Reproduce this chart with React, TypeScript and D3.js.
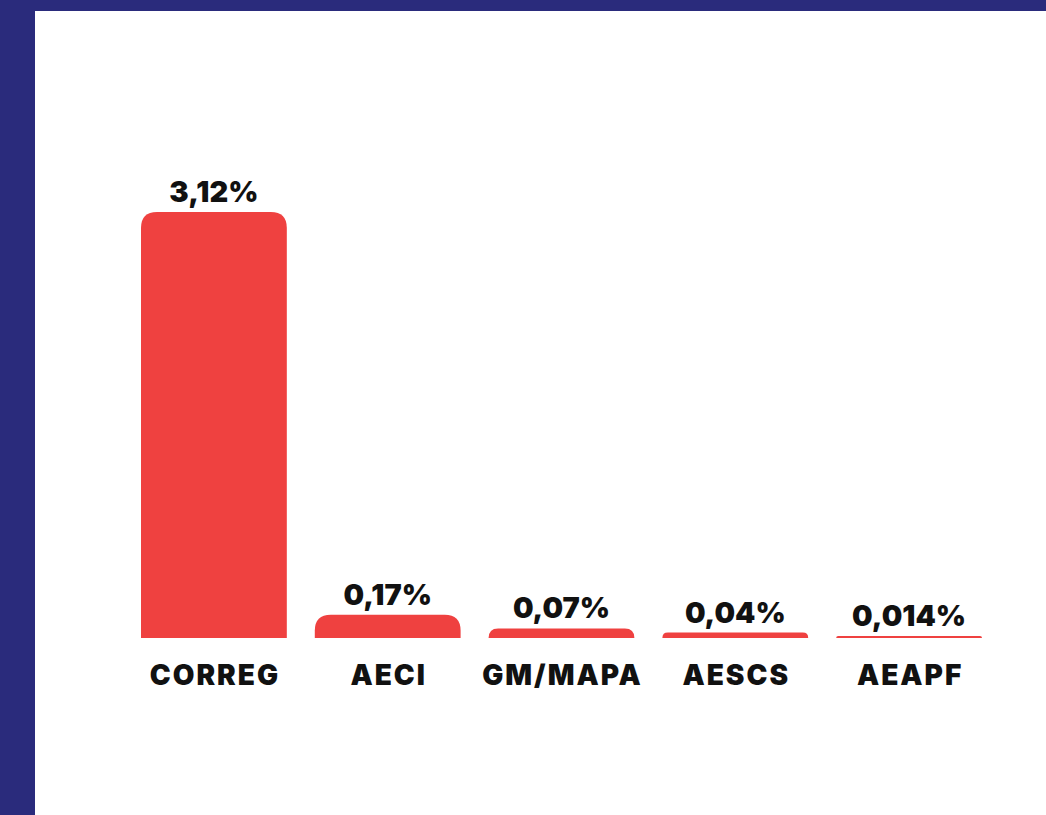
import React, { useEffect, useRef } from 'react';
import * as d3 from 'd3';

const categories = ['CORREG', 'AECI', 'GM/MAPA', 'AESCS', 'AEAPF'];
const values = [3.12, 0.17, 0.07, 0.04, 0.014];
const valueLabels = ['3,12%', '0,17%', '0,07%', '0,04%', '0,014%'];

const W = 1046;
const H = 815;
const NAVY = '#2a2b7c';
const RED = '#ef4140';
const FONT = "Inter, 'Open Sans', sans-serif";

// path for a bar with only the top corners rounded
const topRounded = (x: number, y: number, w: number, h: number, r: number) => {
  const rr = Math.min(r, h, w / 2);
  return `M${x},${y + h}V${y + rr}Q${x},${y} ${x + rr},${y}H${x + w - rr}Q${x + w},${y} ${x + w},${y + rr}V${y + h}Z`;
};

const App = () => {
  const chartRef = useRef<SVGSVGElement>(null);

  useEffect(() => {
    const svg = d3.select(chartRef.current);
    svg.selectAll('*').remove();

    // background: navy frame, white panel
    svg.append('rect').attr('width', W).attr('height', H).attr('fill', NAVY);
    svg.append('rect').attr('x', 35).attr('y', 11).attr('width', W - 35).attr('height', H - 11).attr('fill', '#fff');

    const baseline = 638;

    const xScale = d3
      .scaleBand()
      .domain(categories)
      .range([141, 982])
      .paddingInner(0.161)
      .paddingOuter(0);

    const yScale = d3.scaleLinear().domain([0, 3.12]).range([baseline, 212]);

    const g = svg.append('g');

    g.selectAll('path.bar')
      .data(categories)
      .enter()
      .append('path')
      .attr('class', 'bar')
      .attr('fill', RED)
      .attr('d', (d, i) => {
        const y = yScale(values[i]);
        return topRounded(xScale(d)!, y, xScale.bandwidth(), baseline - y, 16);
      });

    g.selectAll('text.val')
      .data(categories)
      .enter()
      .append('text')
      .attr('class', 'val')
      .attr('x', (d) => xScale(d)! + xScale.bandwidth() / 2)
      .attr('y', (d, i) => yScale(values[i]) - 10)
      .attr('text-anchor', 'middle')
      .attr('font-family', FONT)
      .attr('font-weight', 900)
      .attr('font-size', 29)
      .attr('fill', '#111')
      .text((d, i) => valueLabels[i]);

    g.selectAll('text.cat')
      .data(categories)
      .enter()
      .append('text')
      .attr('class', 'cat')
      .attr('x', (d) => xScale(d)! + xScale.bandwidth() / 2 + 1)
      .attr('y', baseline + 47)
      .attr('text-anchor', 'middle')
      .attr('font-family', FONT)
      .attr('font-weight', 900)
      .attr('font-size', 28)
      .attr('letter-spacing', 2)
      .attr('fill', '#111')
      .text((d) => d);
  }, []);

  return (
    <svg
      ref={chartRef}
      width={W}
      height={H}
      style={{ position: 'absolute', left: 0, top: 0, display: 'block' }}
    />
  );
};

export default App;
